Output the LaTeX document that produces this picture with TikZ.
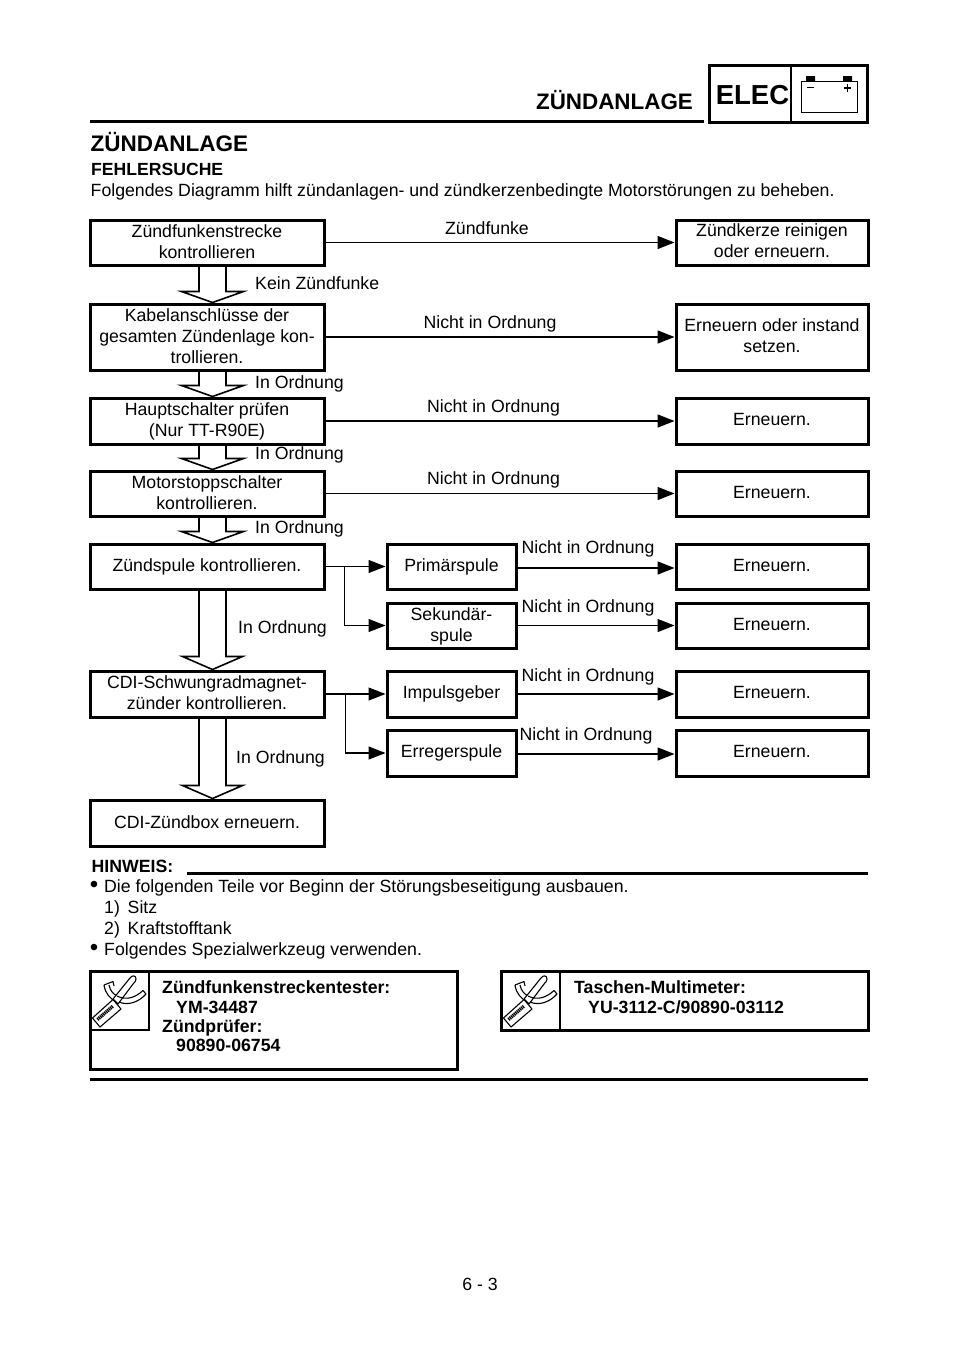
\documentclass[tikz,border=0pt]{standalone}
\usepackage{fontspec}
\setmainfont{Liberation Sans}
\usetikzlibrary{arrows.meta,calc}
\tikzset{
  box/.style={draw=black,line width=3pt,fill=white,inner sep=0pt},
  boxtxt/.style={align=center,inner sep=0pt,font=\fontsize{17.7}{21}\selectfont},
  lbl/.style={inner sep=0pt,text height=13pt,text depth=4pt,yshift=-1.5pt,font=\fontsize{17.7}{21}\selectfont},
  lft/.style={lbl,anchor=west},
  conn/.style={line width=1.4pt,-{Triangle[length=17pt,width=13pt]}},
  hollow/.style={line width=1.6pt,line join=miter},
  rule/.style={line width=3pt},
  bold/.style={inner sep=0pt,anchor=west,text height=13pt,text depth=4pt,yshift=-1pt,font=\fontsize{17.7}{21}\selectfont\bfseries},
  frame/.style={draw=black,line width=3pt},
  icon/.style={line width=1.1pt,line join=round},
}
\newcommand{\boxat}[6]{\node[box,minimum width=#3pt,minimum height=#4pt,label={[boxtxt,name=#1t,yshift=#5pt]center:{#6}}] (#1) at (#2) {};}
\newcommand{\hollowarrow}[4]{%
  \draw[hollow] ($(#1.south)+(-8,0)$) -- ($(#2.north)+(-8,-#3)$) -- ($(#2.north)+(5.5-#4,-#3)$) -- ($(#2.north)+(5.5,0)$) -- ($(#2.north)+(5.5+#4,-#3)$) -- ($(#2.north)+(19,-#3)$) -- ($(#1.south)+(19,0)$);}
\begin{document}
\begin{tikzpicture}[x=1pt,y=-1pt]
\useasboundingbox (0,0) rectangle (960,1358);
% header
\node[inner sep=0pt,font=\fontsize{22.4}{25}\selectfont\bfseries] (hdr) at (614.5,100) {ZÜNDANLAGE};
\coordinate (ra) at (90,121.5); \coordinate (rb) at (704,121.5);
\draw[rule] (ra) -- (rb);
\draw[frame] (709,65.5) rectangle (867,122.5);
\draw[line width=1.8pt] (791,65.5) -- (791,122.5);
\node[inner sep=0pt,font=\fontsize{27.5}{30}\selectfont\bfseries] (elec) at (752.5,95) {ELEC};
\draw[line width=1pt] (801.5,81) rectangle (857,112.5);
\fill (806,76) rectangle (815,81) (843,76) rectangle (852,81);
\draw[line width=1.4pt] (807,87.5) -- (814,87.5) (843.5,88) -- (851,88) (847.2,84.2) -- (847.2,91.8);
\node[inner sep=0pt,anchor=west,font=\fontsize{22.5}{25}\selectfont\bfseries] (title) at (90.5,142) {ZÜNDANLAGE};
\node[inner sep=0pt,anchor=west,font=\fontsize{17.6}{20}\selectfont\bfseries] (sub) at (91,169.5) {FEHLERSUCHE};
\node[lft] (intro) at (90.5,190) {Folgendes Diagramm hilft zündanlagen- und zündkerzenbedingte Motorstörungen zu beheben.};
% boxes left
\boxat{A1}{207,242.5}{234}{45}{1}{Zündfunkenstrecke\\kontrollieren}
\boxat{A2}{207,337}{234}{66}{1}{Kabelanschlüsse der\\gesamten Zündenlage kon-\\trollieren.}
\boxat{A3}{207,421}{234}{46}{0}{Hauptschalter prüfen\\(Nur TT-R90E)}
\boxat{A4}{207,493.5}{234}{45}{1}{Motorstoppschalter\\kontrollieren.}
\boxat{A5}{207,566.5}{234}{45}{0}{Zündspule kontrollieren.}
\boxat{A6}{207,694}{234}{46}{1}{CDI-Schwungradmagnet-\\zünder kontrollieren.}
\boxat{A7}{207,823}{234}{46}{1}{CDI-Zündbox erneuern.}
% boxes right
\boxat{R1}{772,242.5}{192}{45}{1.5}{Zündkerze reinigen\\oder erneuern.}
\boxat{R2}{772,337}{192}{66}{1}{Erneuern oder instand\\setzen.}
\boxat{R3}{772,421}{192}{46}{2}{Erneuern.}
\boxat{R4}{772,493.5}{192}{45}{1}{Erneuern.}
\boxat{R5}{772,566.5}{192}{45}{1}{Erneuern.}
\boxat{R6}{772,625.5}{192}{45}{1}{Erneuern.}
\boxat{R7}{772,694}{192}{46}{2}{Erneuern.}
\boxat{R8}{772,753}{192}{46}{2}{Erneuern.}
% boxes middle
\boxat{M1}{451.5,566.5}{129}{45}{0}{Primärspule}
\boxat{M2}{451.5,625.5}{129}{45}{-1}{Sekundär-\\spule}
\boxat{M3}{451.5,694}{129}{46}{0}{Impulsgeber}
\boxat{M4}{451.5,753}{129}{46}{0}{Erregerspule}
% connectors
\draw[conn] (A1.east) -- (R1.west);
\draw[conn] (A2.east) -- (R2.west);
\draw[conn] (A3.east) -- (R3.west);
\draw[conn] (A4.east) -- (R4.west);
\draw[conn] ([yshift=-1.5pt]M1.east) -- ([yshift=-1.5pt]R5.west);
\draw[conn] (M2.east) -- (R6.west);
\draw[conn] (M3.east) -- (R7.west);
\draw[conn] ([yshift=-1pt]M4.east) -- ([yshift=-1pt]R8.west);
\draw[conn,line width=1.1pt] (A5.east) -- (M1.west);
\draw[conn,line width=1.1pt] (A6.east) -- (M3.west);
\coordinate (j1) at (344.5,566.5);
\coordinate (j2) at (345.5,694);
\draw[conn,line width=1.1pt] (j1) |- (M2.west);
\draw[conn,line width=1.1pt] (j2) |- (M4.west);
% hollow arrows
\hollowarrow{A1}{A2}{11}{31}
\hollowarrow{A2}{A3}{11}{31}
\hollowarrow{A3}{A4}{11}{31}
\hollowarrow{A4}{A5}{11}{31}
\hollowarrow{A5}{A6}{13}{30}
\hollowarrow{A6}{A7}{13}{30}
% labels
\node[lbl] (l1) at (487,228) {Zündfunke};
\node[lft] (l2) at (255,283) {Kein Zündfunke};
\node[lbl] (l3) at (490,322) {Nicht in Ordnung};
\node[lft] (l4) at (255,382) {In Ordnung};
\node[lbl] (l5) at (493.5,406) {Nicht in Ordnung};
\node[lft] (l6) at (255,453.5) {In Ordnung};
\node[lbl] (l7) at (493.5,478) {Nicht in Ordnung};
\node[lft] (l8) at (255,527) {In Ordnung};
\node[lbl] (l9) at (588,547) {Nicht in Ordnung};
\node[lbl] (l10) at (588,606) {Nicht in Ordnung};
\node[lbl] (l11) at (588,675) {Nicht in Ordnung};
\node[lbl] (l12) at (586,734) {Nicht in Ordnung};
\node[lft] (l13) at (238,627) {In Ordnung};
\node[lft] (l14) at (236,757) {In Ordnung};
% note
\node[inner sep=0pt,anchor=west,font=\fontsize{17.7}{20}\selectfont\bfseries] (hin) at (91.5,866) {HINWEIS:};
\coordinate (rc) at (187,873); \coordinate (rd) at (868,873);
\draw[rule] (rc) -- (rd);
\node[lbl,font=\fontsize{24}{24}\selectfont] (b1) at (94,886.5) {\textbullet};
\node[lft] (n1) at (104,886.5) {Die folgenden Teile vor Beginn der Störungsbeseitigung ausbauen.};
\node[lft] (n2) at (104,907.5) {1)};
\node[lft] (n2b) at (127.5,907.5) {Sitz};
\node[lft] (n3) at (104,928.5) {2)};
\node[lft] (n3b) at (127.5,928.5) {Kraftstofftank};
\node[lbl,font=\fontsize{24}{24}\selectfont] (b2) at (94,949) {\textbullet};
\node[lft] (n4) at (104,949) {Folgendes Spezialwerkzeug verwenden.};
% tool boxes
\draw[frame] (90,971.5) rectangle (457,1069);
\draw[line width=2pt] (148.5,971.5) |- (90,1029.5);
\draw[frame] (501,971.5) rectangle (868,1030);
\draw[line width=2pt] (559.5,971.5) -- (559.5,1030);
\foreach \ox in {0,411}{
\begin{scope}[shift={(\ox,0)}]
  \draw[icon,fill=white] (92.5,1018) -- (113,999.5) -- (121,1009) -- (100,1027) -- cycle;
  \draw[line width=3.4pt,dash pattern=on 1.2pt off .7pt] (97.5,1019.5) -- (113,1006);
  \draw[icon] (104,985) -- (113,981.5) -- (114,986) (104,985) .. controls (105,993) and (110,999) .. (117,1002) (109,985) .. controls (110,991) and (114,995) .. (119,997);
  \draw[icon,fill=white] (113,999) -- (130,978) .. controls (132,975) and (136,975) .. (136,979) .. controls (136,981) and (135,982) .. (133,984) -- (118,1004) -- cycle;
  \draw[icon] (117,996) .. controls (127,1001) and (136,997) .. (143,990.5) -- (146,994) .. controls (139,1002) and (128,1006) .. (119,1002);
\end{scope}}
\node[bold] (t1) at (162,988) {Zündfunkenstreckentester:};
\node[bold] (t2) at (176,1007.5) {YM-34487};
\node[bold] (t3) at (162,1027) {Zündprüfer:};
\node[bold] (t4) at (176,1046) {90890-06754};
\node[bold] (t5) at (574,988) {Taschen-Multimeter:};
\node[bold] (t6) at (588,1007.5) {YU-3112-C/90890-03112};
\coordinate (re) at (90,1079.5); \coordinate (rf) at (868,1079.5);
\draw[rule] (re) -- (rf);
\node[lbl] (pg) at (480,1284.5) {6 - 3};
\end{tikzpicture}
\end{document}
